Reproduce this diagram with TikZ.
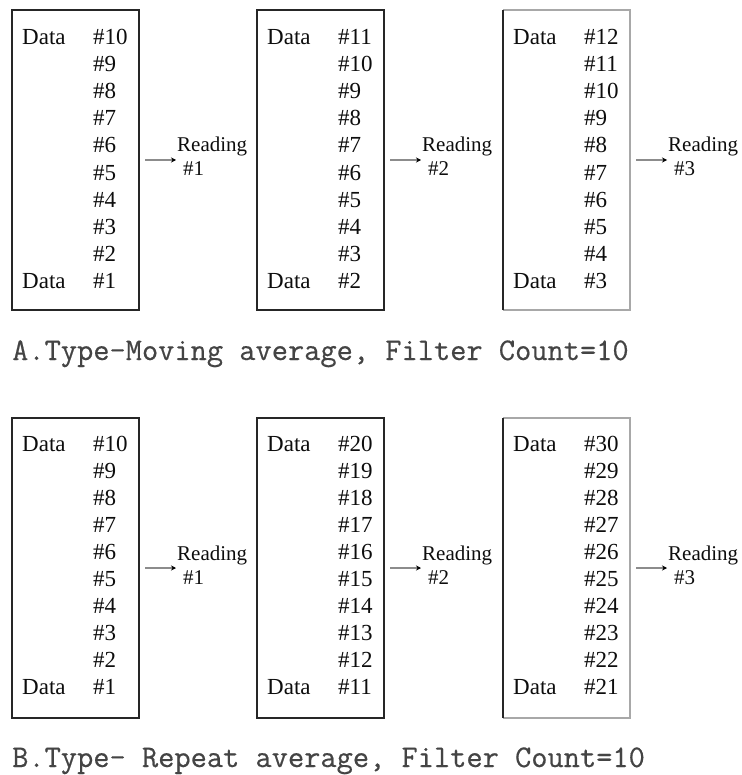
\documentclass[tikz,border=0pt]{standalone}
\usepackage{fontspec}
\setmainfont{Liberation Serif}
\newfontfamily\capfont[FakeBold=0.5]{Latin Modern Mono}
\usetikzlibrary{arrows.meta}
\definecolor{boxgray}{HTML}{A8A8A8}
\definecolor{linegray}{HTML}{8C8C8C}
\definecolor{captext}{HTML}{444444}
\begin{document}
\begin{tikzpicture}[x=1pt,y=-1pt,
  databox/.style={minimum width=127pt,minimum height=300pt,inner sep=0pt,outer sep=0pt,anchor=north west},
  boxline/.style={draw=black!85,line width=1.6pt},
  greyedge/.style={draw=boxgray,line width=2.4pt},
  celltext/.style={font=\fontsize{23}{23}\selectfont,text=black!95,anchor=base west,inner sep=0pt},
  readtext/.style={font=\fontsize{21}{21}\selectfont,text=black!95,anchor=base west,inner sep=0pt},
  feed/.style={draw=linegray,line width=1.8pt,-{Stealth[length=5pt,width=5pt,color=black]}},
  captext/.style={font=\capfont\fontsize{31.5}{31.5}\selectfont,text=captext,anchor=base west,inner sep=0pt}]
\useasboundingbox (0,0) rectangle (741,775);
\foreach \r/\top/\base/\fa/\fb/\fc in {1/10/44.6/10/11/12, 2/418/451/10/20/30}{
  \foreach \b/\left/\first in {1/12/\fa, 2/257/\fb, 3/503/\fc}{
    \node[databox] (b\r\b) at (\left,\top) {};
    \ifnum\b<3
      \draw[boxline] (b\r\b.north west) rectangle (b\r\b.south east);
    \else
      \draw[greyedge] (b\r\b.north west) -- (b\r\b.north east) -- (b\r\b.south east) -- (b\r\b.south west);
      \draw[boxline] (b\r\b.north west) -- (b\r\b.south west);
    \fi
    \node[celltext] (d\r\b a) at (\left+10,\base) {Data};
    \node[celltext] (d\r\b z) at (\left+10,\base+27.1*9) {Data};
    \foreach \i in {0,...,9}{
      \pgfmathtruncatemacro\n{\first-\i}
      \node[celltext] (t\r\b\i) at (\left+81,\base+27.1*\i) {\#\n};
    }
    \coordinate (tip\r\b) at ([xshift=37pt]b\r\b.east);
    \draw[feed] ([xshift=6pt]b\r\b.east) -- (tip\r\b);
    \node[readtext] (rd\r\b) at ([xshift=1pt,yshift=8pt]tip\r\b) {Reading};
    \node[readtext] (rn\r\b) at ([xshift=7pt,yshift=-16pt]tip\r\b) {\#\b};
  }
}
\node[captext] (capA) at (12,360) {A.Type-Moving average, Filter Count=10};
\node[captext] (capB) at (12,767) {B.Type- Repeat average, Filter Count=10};
\end{tikzpicture}
\end{document}
